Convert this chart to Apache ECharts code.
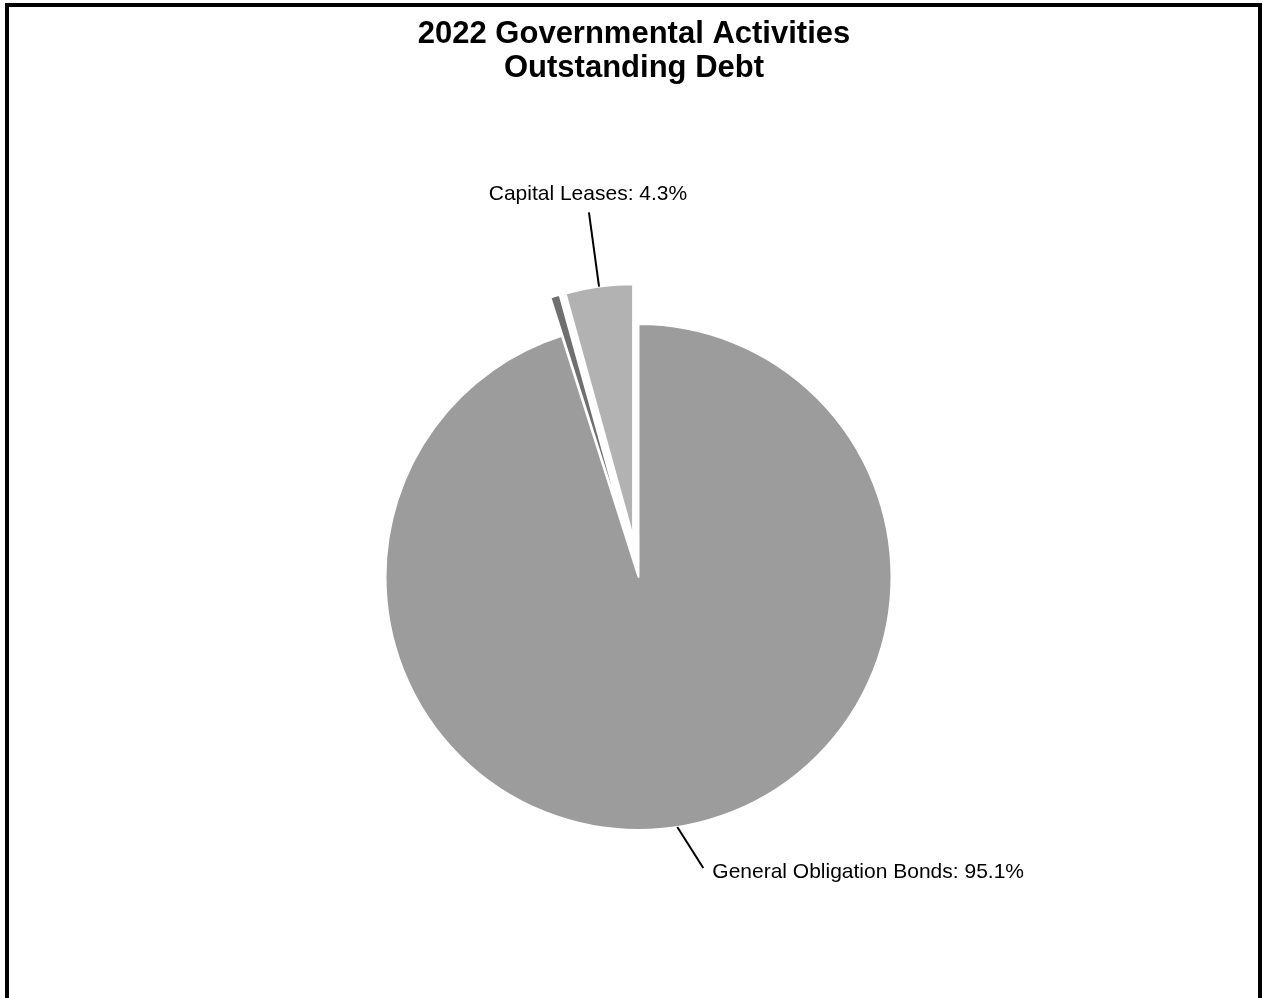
<!DOCTYPE html>
<html>
<head>
<meta charset="utf-8">
<script src="https://cdn.jsdelivr.net/npm/echarts@6/dist/echarts.min.js"></script>
<style>
  html, body { margin: 0; padding: 0; background: #ffffff; }
  #chart { width: 1263px; height: 998px; }
</style>
</head>
<body>
<div id="chart"></div>
<script>
// Chart content
const titleLines = ['2022 Governmental Activities', 'Outstanding Debt'];
const categories = ['General Obligation Bonds', 'Other Debt', 'Capital Leases'];
const shares = [95.1, 0.6, 4.3];          // percent of total outstanding debt
const showLabel = [true, false, true];
const pulledOut = [false, true, true];

// Appearance
const sliceColors = ['#9c9c9c', '#6f6f6f', '#b2b2b2'];
const FONT = '"Liberation Sans", Arial, Helvetica, sans-serif';
const CENTER = [638.5, 577];
const RADIUS = 253;
const PULL = 40;

const total = shares.reduce((a, b) => a + b, 0);

// Mid-angle of a slice, measured clockwise from 12 o'clock (radians)
function midAngle(i) {
  let before = 0;
  for (let k = 0; k < i; k++) before += shares[k];
  return ((before + shares[i] / 2) / total) * Math.PI * 2;
}

// Point on the outer rim of a slice at its mid-angle (including pull-out)
function rimPoint(i) {
  const a = midAngle(i);
  const sx = Math.sin(a), sy = -Math.cos(a);
  const r = RADIUS + (pulledOut[i] ? PULL : 0);
  return [CENTER[0] + r * sx, CENTER[1] + r * sy];
}

// Leader line + label placement for each labelled slice
function placeLabel(p) {
  const i = p.dataIndex;
  const a = rimPoint(i);
  let end;
  if (i === 0) {
    end = [a[0] + 26, a[1] + 41];
    return {
      x: end[0] + 9, y: end[1] + 4,
      align: 'left', verticalAlign: 'middle',
      labelLinePoints: [a, end, end]
    };
  }
  const ang = midAngle(i);
  end = [a[0] + 75 * Math.sin(ang), a[1] - 75 * Math.cos(ang)];
  return {
    x: end[0] - 1, y: end[1] - 18,
    align: 'center', verticalAlign: 'middle',
    labelLinePoints: [a, end, end]
  };
}

const chart = echarts.init(document.getElementById('chart'), null, { renderer: 'canvas' });

const option = {
  animation: false,
  backgroundColor: '#ffffff',
  title: {
    text: titleLines.join('\n'),
    left: 634,
    top: 17,
    padding: 0,
    textAlign: 'center',
    textStyle: {
      fontFamily: FONT,
      fontSize: 31,
      fontWeight: 'bold',
      lineHeight: 34,
      color: '#000000'
    }
  },
  graphic: [{
    type: 'rect',
    silent: true,
    z: 100,
    shape: { x: 7, y: 5, width: 1253, height: 1100 },
    style: { fill: null, stroke: '#000000', lineWidth: 4 }
  }],
  series: [
    // Slices (pulled-out ones are drawn selected)
    {
      type: 'pie',
      center: CENTER,
      radius: RADIUS,
      startAngle: 90,
      clockwise: true,
      selectedMode: 'multiple',
      selectedOffset: PULL,
      avoidLabelOverlap: false,
      emphasis: { disabled: true },
      itemStyle: { borderColor: '#ffffff', borderWidth: 2 },
      label: { show: false },
      labelLine: { show: false },
      data: categories.map((name, i) => ({
        name: name,
        value: shares[i],
        selected: pulledOut[i],
        itemStyle: { color: sliceColors[i] },
        select: { itemStyle: { color: sliceColors[i], borderColor: '#ffffff', borderWidth: 2 } }
      }))
    },
    // Category labels with leader lines
    {
      type: 'pie',
      center: CENTER,
      radius: RADIUS,
      startAngle: 90,
      clockwise: true,
      silent: true,
      selectedMode: false,
      avoidLabelOverlap: false,
      emphasis: { disabled: true },
      z: 3,
      itemStyle: { color: 'rgba(0,0,0,0)', borderWidth: 0 },
      label: {
        show: true,
        position: 'outside',
        formatter: '{b}: {c}%',
        fontFamily: FONT,
        fontSize: 21,
        color: '#000000'
      },
      labelLine: {
        show: true,
        length: 40,
        length2: 0,
        lineStyle: { color: '#000000', width: 2 }
      },
      labelLayout: placeLabel,
      data: categories.map((name, i) => ({
        name: name,
        value: shares[i],
        label: { show: showLabel[i] },
        labelLine: { show: showLabel[i] }
      }))
    }
  ]
};

chart.setOption(option);
</script>
</body>
</html>
